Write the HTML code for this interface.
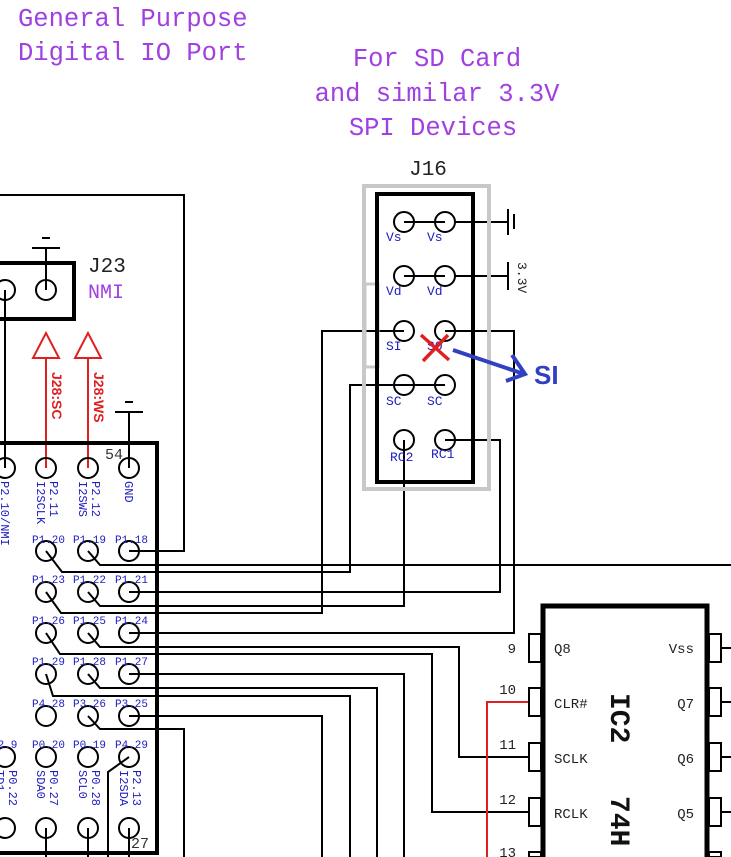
<!DOCTYPE html>
<html><head><meta charset="utf-8"><style>
html,body{margin:0;padding:0;background:#fff;width:731px;height:857px;overflow:hidden}
svg{display:block}
.m{font-family:"Liberation Mono",monospace}
.pu{fill:#a040e0;font-size:25.5px}
.bl{fill:#2020c0;font-size:11px}
.bl2{fill:#2020c0;font-size:13px}
</style></head><body>
<svg width="731" height="857" viewBox="0 0 731 857" xmlns="http://www.w3.org/2000/svg">
<defs><clipPath id="c"><rect x="0" y="0" width="731" height="857"/></clipPath></defs>
<g clip-path="url(#c)">
<g class="m">
<text x="18" y="26" class="pu">General Purpose</text>
<text x="18" y="60" class="pu">Digital IO Port</text>
<text x="437" y="66" class="pu" text-anchor="middle">For SD Card</text>
<text x="437" y="101" class="pu" text-anchor="middle">and similar 3.3V</text>
<text x="433" y="135" class="pu" text-anchor="middle">SPI Devices</text>
<text x="428" y="175" font-size="21" fill="#222" text-anchor="middle">J16</text>
<text x="88" y="272" font-size="21" fill="#222">J23</text>
<text x="88" y="298" font-size="20" fill="#a040e0">NMI</text>
</g>

<g fill="none" stroke="#000" stroke-width="2">
<polyline points="0,195 184,195 184,551 129,551"/>
<line x1="5" y1="290" x2="5" y2="468"/>
<line x1="46" y1="290" x2="46" y2="248"/>
<line x1="32" y1="248" x2="60" y2="248"/><line x1="42" y1="238" x2="50" y2="238"/>
<line x1="129" y1="468" x2="129" y2="412"/>
<line x1="115" y1="412" x2="143" y2="412"/><line x1="125" y1="402" x2="133" y2="402"/>
<polyline points="88,551 100,565 731,565"/>
<polyline points="46,551 62,572 350,572 350,385 445,385"/>
<polyline points="129,592 500,592 500,440 445,440"/>
<polyline points="88,592 100,606 404,606 404,440"/>
<polyline points="46,592 61,613 322,613 322,331 404,331"/>
<polyline points="129,633 514,633 514,331 445,331"/>
<polyline points="88,633 100,647 459,647 459,757 528,757"/>
<polyline points="46,633 60,654 432,654 432,812 528,812"/>
<polyline points="129,674 404,674 404,857"/>
<polyline points="88,674 100,688 377,688 377,857"/>
<polyline points="46,674 53,696 350,696 350,857"/>
<polyline points="129,716 322,716 322,857"/>
<polyline points="88,716 100,729 184,729 184,857"/>
<polyline points="129,757 108,772 108,857"/>
<line x1="46" y1="828" x2="46" y2="857"/>
<line x1="88" y1="828" x2="88" y2="857"/>
<line x1="129" y1="828" x2="129" y2="857"/>
<line x1="404" y1="222" x2="508" y2="222"/>
<line x1="508" y1="209" x2="508" y2="235"/><line x1="514" y1="214" x2="514" y2="229"/>
<line x1="404" y1="276" x2="508" y2="276"/>
<line x1="508" y1="262" x2="508" y2="290"/>
<line x1="404" y1="385" x2="445" y2="385"/>
<line x1="721" y1="648" x2="731" y2="648"/><line x1="721" y1="702" x2="731" y2="702"/>
<line x1="721" y1="757" x2="731" y2="757"/><line x1="721" y1="812" x2="731" y2="812"/>
</g>
<text x="518" y="262" class="m" font-size="13" fill="#222" transform="rotate(90 518 262)">3.3V</text>

<rect x="364" y="186" width="125" height="303" fill="none" stroke="#c8c8c8" stroke-width="4"/>
<rect x="365" y="284" width="13" height="83" fill="none" stroke="#c8c8c8" stroke-width="3"/>
<rect x="377" y="194" width="96" height="288" fill="none" stroke="#000" stroke-width="4"/>
<g fill="#fff" stroke="#000" stroke-width="2">
<circle cx="404" cy="222" r="10"/><circle cx="445" cy="222" r="10"/>
<circle cx="404" cy="276" r="10"/><circle cx="445" cy="276" r="10"/>
<circle cx="404" cy="331" r="10" fill="none"/><circle cx="445" cy="331" r="10" fill="none"/>
<circle cx="404" cy="385" r="10" fill="none"/><circle cx="445" cy="385" r="10" fill="none"/>
<circle cx="404" cy="440" r="10" fill="none"/><circle cx="445" cy="440" r="10" fill="none"/>
</g>
<g fill="none" stroke="#000" stroke-width="2">
<line x1="404" y1="222" x2="445" y2="222"/><line x1="404" y1="276" x2="445" y2="276"/>
</g>
<g class="m bl2">
<text x="386" y="241">Vs</text><text x="427" y="241">Vs</text>
<text x="386" y="295">Vd</text><text x="427" y="295">Vd</text>
<text x="386" y="350">SI</text><text x="427" y="350">SO</text>
<text x="386" y="405">SC</text><text x="427" y="405">SC</text>
<text x="390" y="461">RC2</text><text x="431" y="458">RC1</text>
</g>
<g stroke="#e02020" stroke-width="3.5"><line x1="421" y1="335" x2="449" y2="360"/><line x1="448" y1="335" x2="423" y2="361"/></g>
<g stroke="#3040c0" stroke-width="4" fill="none"><line x1="453" y1="350" x2="524" y2="374"/><polyline points="512,355 525,374 506,381"/></g>
<text x="534" y="384" font-family="Liberation Sans,sans-serif" font-weight="bold" font-size="26" fill="#3040c0">SI</text>

<rect x="-10" y="263" width="84" height="56" fill="none" stroke="#000" stroke-width="4"/>
<circle cx="5" cy="290" r="10" fill="#fff" stroke="#000" stroke-width="2"/>
<circle cx="46" cy="290" r="10" fill="none" stroke="#000" stroke-width="2"/>
<line x1="5" y1="290" x2="5" y2="300" stroke="#000" stroke-width="2"/>

<g stroke="#e02020" stroke-width="2" fill="#fff">
<line x1="46" y1="358" x2="46" y2="468"/><line x1="88" y1="358" x2="88" y2="468"/>
<polygon points="46,333 33,358 59,358"/><polygon points="88,333 75,358 101,358"/>
</g>
<g font-family="Liberation Sans,sans-serif" font-weight="bold" font-size="14" fill="#e02020">
<text x="52" y="372" transform="rotate(90 52 372)">J28:SC</text>
<text x="94" y="372" transform="rotate(90 94 372)">J28:WS</text>
</g>

<rect x="-10" y="443" width="167" height="410" fill="none" stroke="#000" stroke-width="4"/>
<text x="105" y="459" class="m" font-size="15" fill="#333">54</text>
<text x="131" y="848" class="m" font-size="15" fill="#333">27</text>
<g fill="none" stroke="#000" stroke-width="2">
<circle cx="5" cy="468" r="10"/><circle cx="46" cy="468" r="10"/><circle cx="88" cy="468" r="10"/><circle cx="129" cy="468" r="10"/>
<circle cx="46" cy="551" r="10"/><circle cx="88" cy="551" r="10"/><circle cx="129" cy="551" r="10"/>
<circle cx="46" cy="592" r="10"/><circle cx="88" cy="592" r="10"/><circle cx="129" cy="592" r="10"/>
<circle cx="46" cy="633" r="10"/><circle cx="88" cy="633" r="10"/><circle cx="129" cy="633" r="10"/>
<circle cx="46" cy="674" r="10"/><circle cx="88" cy="674" r="10"/><circle cx="129" cy="674" r="10"/>
<circle cx="46" cy="716" r="10"/><circle cx="88" cy="716" r="10"/><circle cx="129" cy="716" r="10"/>
<circle cx="5" cy="757" r="10"/><circle cx="46" cy="757" r="10"/><circle cx="88" cy="757" r="10"/><circle cx="129" cy="757" r="10"/>
<circle cx="5" cy="828" r="10"/><circle cx="46" cy="828" r="10"/><circle cx="88" cy="828" r="10"/><circle cx="129" cy="828" r="10"/>
</g>
<g class="m bl">
<text x="32" y="543">P1.20</text><text x="73" y="543">P1.19</text><text x="115" y="543">P1.18</text>
<text x="32" y="583">P1.23</text><text x="73" y="583">P1.22</text><text x="115" y="583">P1.21</text>
<text x="32" y="624">P1.26</text><text x="73" y="624">P1.25</text><text x="115" y="624">P1.24</text>
<text x="32" y="665">P1.29</text><text x="73" y="665">P1.28</text><text x="115" y="665">P1.27</text>
<text x="32" y="707">P4.28</text><text x="73" y="707">P3.26</text><text x="115" y="707">P3.25</text>
<text x="-9" y="748">P2.9</text><text x="32" y="748">P0.20</text><text x="73" y="748">P0.19</text><text x="115" y="748">P4.29</text>
</g>
<g class="m" fill="#2020c0" font-size="12">
<text x="1" y="481" transform="rotate(90 1 481)">P2.10/NMI</text>
<text x="50" y="481" transform="rotate(90 50 481)">P2.11</text><text x="37" y="481" transform="rotate(90 37 481)">I2SCLK</text>
<text x="92" y="481" transform="rotate(90 92 481)">P2.12</text><text x="79" y="481" transform="rotate(90 79 481)">I2SWS</text>
<text x="125" y="481" transform="rotate(90 125 481)">GND</text>
<text x="9" y="770" transform="rotate(90 9 770)">P0.22</text><text x="-4" y="770" transform="rotate(90 -4 770)">TD1</text>
<text x="50" y="770" transform="rotate(90 50 770)">P0.27</text><text x="37" y="770" transform="rotate(90 37 770)">SDA0</text>
<text x="92" y="770" transform="rotate(90 92 770)">P0.28</text><text x="79" y="770" transform="rotate(90 79 770)">SCL0</text>
<text x="133" y="770" transform="rotate(90 133 770)">P2.13</text><text x="120" y="770" transform="rotate(90 120 770)">I2SDA</text>
</g>

<polyline points="487,857 487,702 528,702" fill="none" stroke="#e02020" stroke-width="2"/>
<polyline points="543,857 543,606 707,606 707,857" fill="none" stroke="#000" stroke-width="5"/>
<g fill="#fff" stroke="#000" stroke-width="2">
<rect x="529" y="634" width="12" height="28"/><rect x="529" y="688" width="12" height="28"/>
<rect x="529" y="743" width="12" height="28"/><rect x="529" y="798" width="12" height="28"/><rect x="529" y="852" width="12" height="5"/>
<rect x="709" y="634" width="12" height="28"/><rect x="709" y="688" width="12" height="28"/>
<rect x="709" y="743" width="12" height="28"/><rect x="709" y="798" width="12" height="28"/><rect x="709" y="852" width="12" height="5"/>
</g>
<g class="m" font-size="14" fill="#222">
<text x="516" y="653" text-anchor="end">9</text>
<text x="516" y="694" text-anchor="end">10</text>
<text x="516" y="749" text-anchor="end">11</text>
<text x="516" y="804" text-anchor="end">12</text>
<text x="516" y="857" text-anchor="end">13</text>
<text x="554" y="653">Q8</text><text x="554" y="708">CLR#</text><text x="554" y="763">SCLK</text><text x="554" y="818">RCLK</text>
<text x="694" y="653" text-anchor="end">Vss</text><text x="694" y="708" text-anchor="end">Q7</text><text x="694" y="763" text-anchor="end">Q6</text><text x="694" y="818" text-anchor="end">Q5</text>
</g>
<g class="m" font-weight="bold" font-size="28" fill="#111">
<text x="611" y="693" transform="rotate(90 611 693)">IC2</text>
<text x="611" y="796" transform="rotate(90 611 796)">74H</text>
</g>
</g>
</svg>
</body></html>
